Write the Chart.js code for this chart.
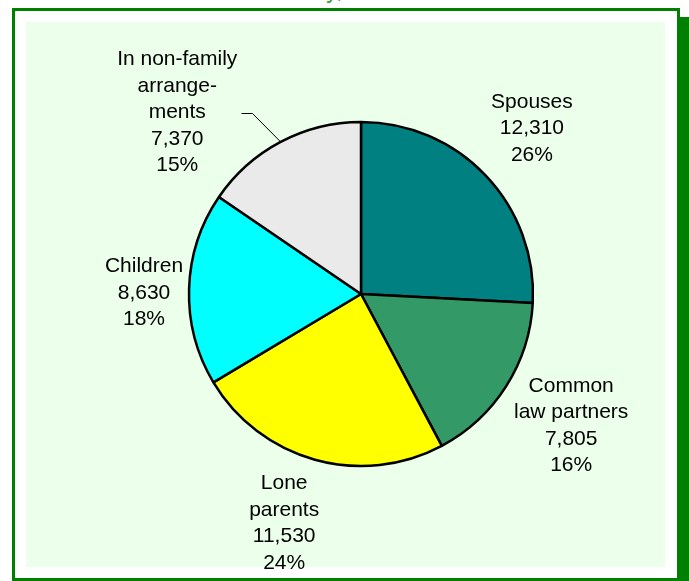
<!DOCTYPE html>
<html>
<head>
<meta charset="utf-8">
<script src="https://cdn.jsdelivr.net/npm/chart.js@4/dist/chart.umd.min.js"></script>
<style>
    html, body { margin: 0; padding: 0; background: #fff; }
    body { width: 689px; height: 581px; position: relative; overflow: hidden; font-family: "Liberation Sans", Arial, sans-serif; }
    #shadow { position: absolute; left: 21px; top: 17px; width: 668px; height: 600px; background: #008000; }
    #frame { position: absolute; left: 12px; top: 8px; width: 662px; height: 567px; border: 3px solid #008000; background: #fff; }
    #plot { position: absolute; left: 26px; top: 22px; width: 639px; height: 545px; background: #ebffeb; }
    #title { position: absolute; left: 0; top: -21px; width: 582px; line-height: 23px; font-size: 23px; text-align: center; color: #33a033; white-space: nowrap; }
    canvas { position: absolute; left: 0; top: 0; }
</style>
</head>
<body>
<div id="shadow"></div>
<div id="frame"></div>
<div id="plot"></div>
<div id="title">Status in family, 1996</div>
<canvas id="status-pie" width="689" height="581"></canvas>
<script>
// family status, persons (clockwise from 12 o'clock)
const names = [
    ['Spouses'],
    ['Common', 'law partners'],
    ['Lone', 'parents'],
    ['Children'],
    ['In non-family', 'arrange-', 'ments']
];
const values = [12310, 7805, 11530, 8630, 7370];
const colors = ['#008080', '#339966', '#ffff00', '#00ffff', '#eaeaea'];

const LINE_H = 26.5;
const GAP = 20;
// hand tweaks so the labels sit where they read best
const labelNudge = [[2, -6], [0, 0], [-16, -7], [14, 6], [-66, 47]];
const leaderLine = [false, false, false, false, true];

const sliceLabels = {
    id: 'sliceLabels',
    afterDatasetsDraw(chart) {
        const ctx = chart.ctx;
        const meta = chart.getDatasetMeta(0);
        const total = values.reduce((a, b) => a + b, 0);
        ctx.save();
        ctx.font = '21px "Liberation Sans", Arial, sans-serif';
        ctx.fillStyle = '#000';
        ctx.strokeStyle = '#000';
        ctx.lineWidth = 1;
        ctx.textAlign = 'center';
        ctx.textBaseline = 'middle';
        meta.data.forEach((arc, i) => {
            const { x, y, startAngle, endAngle, outerRadius } =
                arc.getProps(['x', 'y', 'startAngle', 'endAngle', 'outerRadius'], true);
            const mid = (startAngle + endAngle) / 2;
            const dx = Math.cos(mid), dy = Math.sin(mid);
            const lines = names[i].concat([
                values[i].toLocaleString('en-US'),
                Math.round(values[i] / total * 100) + '%'
            ]);
            const w = Math.max(...lines.map(l => ctx.measureText(l).width));
            const h = lines.length * LINE_H;
            const d = outerRadius + GAP;
            const cx = x + dx * (d + w / 2) + labelNudge[i][0];
            const cy = y + dy * (d + h / 2) + labelNudge[i][1];
            lines.forEach((l, k) => {
                ctx.fillText(l, cx, cy + (k - (lines.length - 1) / 2) * LINE_H);
            });
            if (leaderLine[i]) {
                const sx = Math.round(cx + w / 2 + 4) + 0.5;
                const sy = Math.round(cy) + 0.5;
                ctx.beginPath();
                ctx.moveTo(sx, sy);
                ctx.lineTo(sx + 11, sy);
                ctx.lineTo(x + dx * outerRadius, y + dy * outerRadius);
                ctx.stroke();
            }
        });
        ctx.restore();
    }
};

new Chart(document.getElementById('status-pie').getContext('2d'), {
    type: 'pie',
    data: {
        labels: names.map(n => n.join(' ')),
        datasets: [{
            data: values,
            backgroundColor: colors,
            borderColor: '#000',
            borderWidth: 2.5,
            hoverOffset: 0
        }]
    },
    options: {
        responsive: false,
        animation: false,
        radius: 172,
        layout: { padding: { left: 33, top: 7, right: 0, bottom: 0 } },
        plugins: {
            legend: { display: false },
            tooltip: { enabled: false }
        }
    },
    plugins: [sliceLabels]
});
</script>
</body>
</html>
